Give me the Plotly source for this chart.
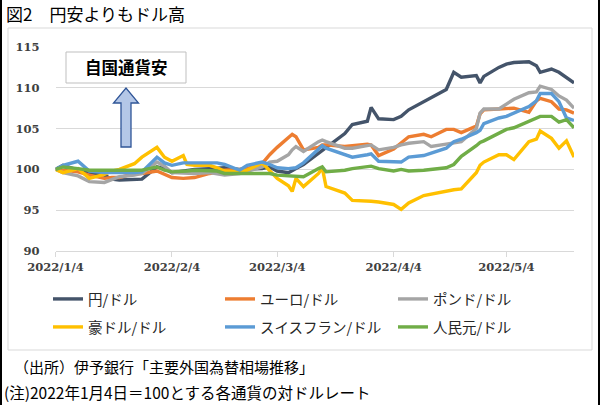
import plotly.graph_objects as go

W, H = 600, 405

dates = ["2022-01-04","2022-01-06","2022-01-10","2022-01-13","2022-01-17","2022-01-19","2022-01-21","2022-01-25","2022-01-27","2022-01-31",
         "2022-02-02","2022-02-04","2022-02-07","2022-02-08","2022-02-10","2022-02-14","2022-02-16","2022-02-18","2022-02-22","2022-02-24","2022-02-28",
         "2022-03-02","2022-03-04","2022-03-07","2022-03-08","2022-03-09","2022-03-11","2022-03-15","2022-03-16","2022-03-17","2022-03-22","2022-03-24","2022-03-28","2022-03-29","2022-03-31",
         "2022-04-04","2022-04-06","2022-04-08","2022-04-12","2022-04-14","2022-04-18","2022-04-20","2022-04-22","2022-04-26","2022-04-27","2022-04-28",
         "2022-05-02","2022-05-04","2022-05-06","2022-05-10","2022-05-12","2022-05-13","2022-05-16","2022-05-18","2022-05-20","2022-05-22"]

yen = [100, 100.5, 99.9, 99.5, 99.3, 98.8, 98.7, 98.7, 98.8, 100.3,
       100.1, 99.6, 99.8, 99.9, 100.0, 100.1, 100.2, 100.2, 100.0, 100.0, 100.1,
       100.3, 99.8, 99.6, 99.8, 100.1, 100.6, 102.0, 102.3, 102.6, 104.4, 105.5, 105.9, 107.6, 106.2,
       106.1, 106.5, 107.3, 108.3, 108.8, 109.8, 111.9, 111.3, 111.5, 110.6, 111.4,
       112.5, 112.9, 113.1, 113.2, 112.7, 111.9, 112.3, 111.9, 111.2, 110.6]

euro = [100, 99.9, 99.7, 99.3, 98.9, 99.0, 99.0, 99.5, 99.5, 99.8,
        99.4, 99.0, 98.9, 98.9, 99.0, 99.5, 99.7, 99.9, 100.0, 100.1, 100.7,
        101.8, 102.7, 103.9, 104.3, 104.0, 102.4, 102.7, 103.0, 103.0, 102.8, 102.9, 103.1, 103.0, 101.7,
        102.5, 103.2, 104.0, 104.3, 104.0, 104.9, 104.9, 104.5, 105.3, 106.8, 107.3,
        107.4, 107.4, 107.5, 107.0, 108.4, 108.7, 108.3, 107.4, 107.3, 106.9]

pound = [100, 99.6, 99.2, 98.5, 98.4, 98.8, 99.1, 99.3, 99.5, 100.9,
         100.4, 99.6, 99.5, 99.5, 99.5, 99.6, 99.4, 99.3, 99.5, 99.8, 100.3,
         100.9, 101.0, 101.8, 102.4, 102.8, 102.2, 103.4, 103.6, 103.4, 102.6, 102.6, 103.0, 103.0, 102.4,
         102.7, 103.0, 103.2, 103.4, 102.8, 103.1, 103.3, 103.4, 105.0, 106.9, 107.4,
         107.4, 108.0, 108.6, 109.4, 109.5, 110.2, 109.8, 109.0, 108.5, 107.5]

aud = [100, 99.6, 100.1, 98.9, 99.4, 99.8, 100.0, 100.7, 101.5, 102.7,
       101.5, 101.0, 101.7, 100.6, 100.5, 100.5, 100.2, 99.8, 99.7, 99.9, 100.8,
       99.9, 98.9, 98.0, 97.3, 98.9, 97.9, 99.5, 100.2, 97.9, 97.1, 96.2, 96.2, 96.1, 96.0,
       95.7, 95.1, 95.9, 96.8, 97.0, 97.4, 97.5, 97.6, 99.6, 100.5, 100.9,
       101.8, 101.8, 101.2, 103.4, 103.7, 104.7, 103.8, 102.6, 103.5, 101.5]

chf = [100, 100.5, 101.0, 99.8, 99.6, 99.6, 99.5, 99.6, 99.7, 101.5,
       100.8, 100.5, 100.8, 100.8, 100.8, 100.8, 100.8, 100.6, 99.9, 100.5, 100.9,
       100.6, 100.2, 100.1, 100.1, 100.2, 100.8, 102.5, 102.9, 102.6, 101.8, 101.5, 101.8, 101.9, 101.0,
       100.9, 100.9, 101.5, 101.7, 102.0, 102.6, 103.4, 103.7, 104.5, 104.8, 105.6,
       106.3, 106.5, 106.9, 107.7, 108.4, 109.3, 109.3, 108.3, 106.3, 106.0]

yuan = [100, 100.3, 100.1, 99.9, 99.9, 99.9, 99.9, 99.8, 99.9, 100.3,
        99.9, 99.7, 99.7, 99.8, 99.9, 99.9, 99.8, 99.5, 99.5, 99.5, 99.6,
        99.5, 99.3, 99.2, 99.1, 99.1, 99.1, 100.1, 100.3, 99.7, 99.9, 100.1, 100.3, 100.4, 100.1,
        99.8, 100.0, 99.8, 99.9, 100.0, 100.2, 100.6, 101.6, 102.9, 103.3, 103.5,
        104.5, 104.9, 105.1, 105.9, 106.2, 106.5, 106.5, 105.8, 106.1, 105.1]

series_names = ["円/ドル", "ユーロ/ドル", "ポンド/ドル", "豪ドル/ドル", "スイスフラン/ドル", "人民元/ドル"]
series_colors = ["#44546A", "#ED7D31", "#A5A5A5", "#FFC000", "#5B9BD5", "#70AD47"]
series_values = [yen, euro, pound, aud, chf, yuan]

x_tickvals = ["2022-01-04", "2022-02-04", "2022-03-04", "2022-04-04", "2022-05-04"]
x_ticktext = ["2022/1/4", "2022/2/4", "2022/3/4", "2022/4/4", "2022/5/4"]
y_tickvals = [90, 95, 100, 105, 110, 115]

title_text = "図2　円安よりもドル高"
box_text = "自国通貨安"
source_text = "（出所）伊予銀行「主要外国為替相場推移」"
note_text = "(注)2022年1月4日＝100とする各通貨の対ドルレート"

def px(x):
    return x / W

def py(y):
    return 1 - y / H

JP = "Noto Sans CJK JP"

legend_cols = [48, 220, 393]
legend_rows = [299, 327]

fig = go.Figure()
legend_layouts = {}
for i, (name, col, vals) in enumerate(zip(series_names, series_colors, series_values)):
    lname = "legend" if i == 0 else "legend%d" % (i + 1)
    fig.add_trace(go.Scatter(x=dates, y=vals, mode="lines", name=name,
                             line=dict(color=col, width=3.4), legend=lname))
    legend_layouts[lname] = dict(
        orientation="h", x=px(legend_cols[i % 3]), y=py(legend_rows[i // 3]),
        xanchor="left", yanchor="middle", itemwidth=30,
        font=dict(family=JP, size=14.5, color="#262626"), bgcolor="rgba(0,0,0,0)")

tickfont = dict(family="DejaVu Serif", size=11.5, color="#404040", weight="bold")

fig.update_layout(
    width=W, height=H,
    margin=dict(l=0, r=0, t=0, b=0, autoexpand=False),
    paper_bgcolor="white", plot_bgcolor="white",
    showlegend=True,
    xaxis=dict(domain=[px(55.5), px(574)], type="date",
               range=["2022-01-04", "2022-05-22"],
               tickvals=x_tickvals, ticktext=x_ticktext, tickfont=tickfont,
               showgrid=False, zeroline=False, showline=True, linecolor="#D9D9D9", linewidth=1,
               ticks="outside", ticklen=5, tickcolor="#D9D9D9", fixedrange=True, automargin=False),
    yaxis=dict(domain=[py(251), py(47)], range=[90, 115], tickvals=y_tickvals,
               tickfont=tickfont, showgrid=True, gridcolor="#D9D9D9", gridwidth=1,
               zeroline=False, showline=False, ticks="", ticklabelstandoff=15, fixedrange=True,
               automargin=False),
    **legend_layouts,
)

shapes = [
    dict(type="rect", xref="paper", yref="paper", x0=px(8), x1=px(592), y0=py(350), y1=py(28),
         line=dict(color="#D9D9D9", width=1), fillcolor="rgba(0,0,0,0)", layer="below"),
    dict(type="line", xref="paper", yref="paper", x0=px(1), x1=px(1), y0=0, y1=1,
         line=dict(color="black", width=2)),
    dict(type="line", xref="paper", yref="paper", x0=px(599), x1=px(599), y0=0, y1=1,
         line=dict(color="black", width=2)),
    dict(type="rect", xref="paper", yref="paper", x0=px(66), x1=px(186), y0=py(83), y1=py(52),
         line=dict(color="#BFBFBF", width=1), fillcolor="white"),
    dict(type="path", xref="paper", yref="paper",
         path=("M {a},{b} L {a},{c} L {d},{c} L {e},{f} L {g},{c} L {h},{c} L {h},{b} Z").format(
             a=px(121), b=py(147), c=py(103), d=px(113.5), e=px(126), f=py(88), g=px(138.5), h=px(131)),
         fillcolor="#B4C7E7", line=dict(color="#2F5597", width=1.3)),
]
fig.update_layout(shapes=shapes)

annotations = [
    dict(text=title_text, x=px(4), y=py(14), xref="paper", yref="paper", xanchor="left", yanchor="middle",
         showarrow=False, font=dict(family=JP, size=17, color="#000000")),
    dict(text="<b>" + box_text + "</b>", x=px(126), y=py(67.5), xref="paper", yref="paper",
         xanchor="center", yanchor="middle", showarrow=False, font=dict(family=JP, size=16.5, color="#000000")),
    dict(text=source_text, x=px(12), y=py(366), xref="paper", yref="paper", xanchor="left", yanchor="middle",
         showarrow=False, font=dict(family=JP, size=15, color="#000000")),
    dict(text=note_text, x=px(2), y=py(392), xref="paper", yref="paper", xanchor="left", yanchor="middle",
         showarrow=False, font=dict(family=JP, size=15.5, color="#000000")),
]
fig.update_layout(annotations=annotations)

fig.write_html("out.html", config={"displayModeBar": False},
               post_script="document.body.style.margin='0px';document.body.style.overflow='hidden';")
